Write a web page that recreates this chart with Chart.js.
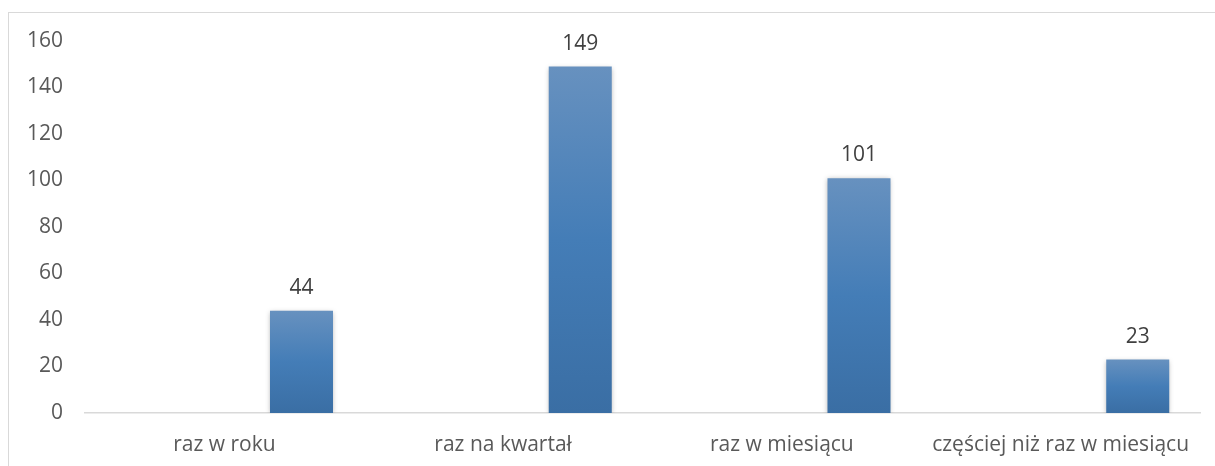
<!DOCTYPE html>
<html>
<head>
<meta charset="utf-8">
<script src="https://cdn.jsdelivr.net/npm/chart.js@4/dist/chart.umd.min.js"></script>
<style>
  html, body { margin: 0; padding: 0; background: #fff; overflow: hidden; }
  #frame { position: absolute; left: 8px; top: 12px; width: 1300px; height: 600px; border: 1.5px solid #d9d9d9; }
  #wrap { position: absolute; left: 0; top: 0; width: 1215px; height: 466px; }
</style>
</head>
<body>
<div id="frame"></div>
<div id="wrap"><canvas id="myChart"></canvas></div>
<script>
const categories = ['raz w roku', 'raz na kwartał', 'raz w miesiącu', 'częściej niż raz w miesiącu'];
const values = [44, 149, 101, 23];
const yTicks = [0, 20, 40, 60, 80, 100, 120, 140, 160];

const ctx = document.getElementById('myChart');

// gradient fill like the Excel bars
function barGradient(context) {
    const chart = context.chart;
    const area = chart.chartArea;
    if (!area) return '#4a7fb8';
    const y = chart.scales.y;
    const g = chart.ctx.createLinearGradient(0, y.getPixelForValue(context.raw || 0), 0, y.getPixelForValue(0));
    g.addColorStop(0, '#6791bf');
    g.addColorStop(0.5, '#447db7');
    g.addColorStop(1, '#3a6ea4');
    return g;
}

const valueLabels = {
    id: 'valueLabels',
    beforeDatasetDraw(chart, args) {
        if (args.index !== 2) return;
        const c = chart.ctx;
        c.save();
        c.shadowColor = 'rgba(0,0,0,0.3)';
        c.shadowBlur = 5;
        c.shadowOffsetY = 1;
    },
    afterDatasetDraw(chart, args) {
        if (args.index !== 2) return;
        chart.ctx.restore();
    },
    afterDatasetsDraw(chart) {
        const c = chart.ctx;
        const meta = chart.getDatasetMeta(2);
        c.save();
        c.font = '21px "Open Sans"';
        c.fillStyle = '#404040';
        c.textAlign = 'center';
        c.textBaseline = 'middle';
        meta.data.forEach((bar, i) => {
            c.fillText(values[i], bar.x, bar.y - 23);
        });
        c.restore();
    }
};

new Chart(ctx, {
    type: 'bar',
    data: {
        labels: categories,
        datasets: [
            { data: categories.map(() => null) },
            { data: categories.map(() => null) },
            {
                data: values,
                backgroundColor: barGradient,
                borderWidth: 0
            }
        ]
    },
    options: {
        responsive: true,
        maintainAspectRatio: false,
        animation: false,
        categoryPercentage: 0.83,
        barPercentage: 0.817,
        layout: { padding: { top: 41, right: 15, bottom: 0, left: 0 } },
        plugins: {
            legend: { display: false },
            tooltip: { enabled: false }
        },
        scales: {
            x: {
                grid: { display: false, drawTicks: false },
                border: { display: true, color: '#d9d9d9', width: 1.5 },
                ticks: {
                    color: '#595959',
                    font: { family: 'Open Sans', size: 21 },
                    padding: 19,
                    maxRotation: 0
                },
                afterFit: s => { s.height = 53; }
            },
            y: {
                min: 0,
                max: 160,
                afterBuildTicks: s => { s.ticks = yTicks.map(v => ({ value: v })); },
                grid: { display: false, drawTicks: false },
                border: { display: false },
                ticks: {
                    color: '#595959',
                    font: { family: 'Open Sans', size: 21 },
                    padding: 22
                },
                afterFit: s => { s.width = 85; }
            }
        }
    },
    plugins: [valueLabels]
});
</script>
</body>
</html>
